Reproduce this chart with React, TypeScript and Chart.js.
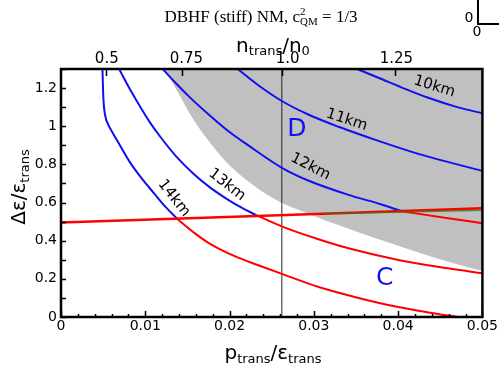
import React, { useEffect, useRef } from "react";
import { Chart, registerables } from "chart.js";
Chart.register(...registerables);

// ---- tick values / labels ----
const xTicks = [0, 0.01, 0.02, 0.03, 0.04, 0.05];
const xTickLabels = ["0", "0.01", "0.02", "0.03", "0.04", "0.05"];
const yTicks = [0, 0.2, 0.4, 0.6, 0.8, 1, 1.2];
const yTickLabels = ["0", "0.2", "0.4", "0.6", "0.8", "1", "1.2"];
const topLabelPos = [0.00543, 0.01488, 0.0269, 0.0398];
const topTickLabels = ["0.5", "0.75", "1.0", "1.25"];
const topTickMarks = [0.0053, 0.0143, 0.0262, 0.0396];

// ---- series (x = p_trans/eps_trans, y = delta eps / eps_trans) ----
const r14BlueX = [0.00492, 0.00502, 0.00525, 0.00555, 0.00614, 0.00697, 0.00815, 0.00953, 0.0111, 0.0124, 0.01381];
const r14BlueY = [1.301, 1.154, 1.055, 1.014, 0.965, 0.902, 0.813, 0.729, 0.645, 0.577, 0.514];
const r14RedX = [0.01381, 0.01582, 0.01759, 0.02054, 0.02349, 0.02621, 0.03058, 0.0353, 0.04002, 0.04357, 0.04711];
const r14RedY = [0.514, 0.441, 0.386, 0.32, 0.27, 0.226, 0.157, 0.1, 0.052, 0.024, 0.0];

const r13BlueX = [0.00688, 0.00815, 0.00933, 0.01051, 0.01169, 0.01366, 0.01562, 0.01759, 0.01956, 0.02137, 0.02311];
const r13BlueY = [1.301, 1.196, 1.107, 1.023, 0.95, 0.842, 0.755, 0.682, 0.622, 0.574, 0.535];
const r13RedX = [0.02311, 0.02625, 0.03019, 0.03412, 0.04002, 0.04593, 0.05];
const r13RedY = [0.535, 0.474, 0.413, 0.36, 0.299, 0.255, 0.229];

const r12BlueX = [0.01204, 0.01346, 0.01523, 0.01759, 0.01995, 0.02231, 0.02621, 0.0294, 0.03412, 0.03802, 0.04041];
const r12BlueY = [1.301, 1.233, 1.154, 1.059, 0.971, 0.897, 0.782, 0.714, 0.64, 0.59, 0.554];
const r12RedX = [0.04041, 0.04593, 0.05];
const r12RedY = [0.554, 0.518, 0.492];

const r11X = [0.02093, 0.02349, 0.02625, 0.0294, 0.03294, 0.03766, 0.04239, 0.05];
const r11Y = [1.301, 1.212, 1.131, 1.06, 0.997, 0.923, 0.855, 0.766];

const r10X = [0.03506, 0.03766, 0.04038, 0.04357, 0.04711, 0.05];
const r10Y = [1.301, 1.254, 1.204, 1.149, 1.099, 1.068];

const critX = [0, 0.05];
const critY = [0.495, 0.57];
const greenX = [0.0313, 0.05];
const greenY = [0.542, 0.56];

const greyX = [0.01228, 0.0137, 0.01558, 0.01759, 0.0196, 0.02196, 0.02432, 0.02621, 0.02881, 0.03412, 0.04002, 0.04593, 0.05];
const greyY = [1.301, 1.191, 1.044, 0.918, 0.813, 0.719, 0.645, 0.598, 0.551, 0.462, 0.373, 0.289, 0.241];

const nTransX = [0.0262, 0.0262];
const nTransY = [0, 1.3];

// ---- annotation anchors (data coords) ----
const kmLabels = ["10km", "11km", "12km", "13km", "14km"];
const kmLabelX = [0.0443, 0.0339, 0.0296, 0.0197, 0.0134];
const kmLabelY = [1.208, 1.033, 0.788, 0.693, 0.623];
const kmLabelRot = [17, 18, 27, 38, 52];
const regionLabels = ["D", "C"];
const regionX = [0.028, 0.0384];
const regionY = [0.981, 0.203];

const BLUE = "#1010f0";
const RED = "#ff0000";
const SANS = "'DejaVu Sans', Verdana, sans-serif";
const SERIF = "'Liberation Serif', 'Times New Roman', serif";

const pts = (xs: number[], ys: number[]) => xs.map((x, i) => ({ x, y: ys[i] }));

const curve = (xs: number[], ys: number[], color: string, width: number, order: number) => ({
  data: pts(xs, ys),
  showLine: true,
  borderColor: color,
  borderWidth: width,
  pointRadius: 0,
  cubicInterpolationMode: "monotone" as const,
  fill: false,
  order,
});

type Part = { t: string; size: number; dy: number };
function richWidth(ctx: CanvasRenderingContext2D, parts: Part[], family: string) {
  let w = 0;
  for (const p of parts) {
    ctx.font = `${p.size}px ${family}`;
    w += ctx.measureText(p.t).width;
  }
  return w;
}
function drawRich(ctx: CanvasRenderingContext2D, parts: Part[], cx: number, baseline: number, family: string) {
  const w = richWidth(ctx, parts, family);
  let x = cx - w / 2;
  ctx.textAlign = "left";
  ctx.textBaseline = "alphabetic";
  for (const p of parts) {
    ctx.font = `${p.size}px ${family}`;
    ctx.fillText(p.t, x, baseline + p.dy);
    x += ctx.measureText(p.t).width;
  }
}

const overlay = {
  id: "overlay",
  afterDatasetsDraw(chart: any) {
    const { ctx, scales } = chart;
    const xs = scales.x, ys = scales.y;
    ctx.save();
    ctx.fillStyle = "#000";
    ctx.textAlign = "center";
    ctx.textBaseline = "middle";
    ctx.font = `15px ${SANS}`;
    kmLabels.forEach((t, i) => {
      ctx.save();
      ctx.translate(xs.getPixelForValue(kmLabelX[i]), ys.getPixelForValue(kmLabelY[i]));
      ctx.rotate((kmLabelRot[i] * Math.PI) / 180);
      ctx.fillText(t, 0, 0);
      ctx.restore();
    });
    ctx.fillStyle = BLUE;
    ctx.font = `25px ${SANS}`;
    regionLabels.forEach((t, i) => {
      ctx.fillText(t, xs.getPixelForValue(regionX[i]), ys.getPixelForValue(regionY[i]));
    });
    ctx.restore();
  },
  afterDraw(chart: any) {
    const { ctx, chartArea: ca, scales } = chart;
    const xs = scales.x, ys = scales.y, x2 = scales.x2;
    ctx.save();
    ctx.strokeStyle = "#000";
    ctx.lineWidth = 1.5;
    ctx.beginPath();
    for (let v = 0; v <= 1.3001; v += 0.1) {
      const py = Math.round(ys.getPixelForValue(v)) + 0.5;
      ctx.moveTo(ca.left, py);
      ctx.lineTo(ca.left + 5, py);
    }
    for (let v = 0; v <= 0.05001; v += 0.002) {
      const major = Math.abs(v / 0.01 - Math.round(v / 0.01)) < 1e-6;
      const px = Math.round(xs.getPixelForValue(v)) + 0.5;
      ctx.moveTo(px, ca.bottom);
      ctx.lineTo(px, ca.bottom - (major ? 6 : 3));
    }
    topTickMarks.forEach((v) => {
      const px = Math.round(x2.getPixelForValue(v)) + 0.5;
      ctx.moveTo(px, ca.top);
      ctx.lineTo(px, ca.top + 7);
    });
    ctx.stroke();
    ctx.lineWidth = 2.5;
    ctx.strokeRect(ca.left, ca.top, ca.right - ca.left, ca.bottom - ca.top);

    ctx.fillStyle = "#000";
    // title
    ctx.textBaseline = "alphabetic";
    ctx.textAlign = "left";
    const f1 = `17px ${SERIF}`, f2 = `11px ${SERIF}`;
    ctx.font = f1;
    const a = "DBHF (stiff) NM, c";
    const b = " = 1/3";
    const wa = ctx.measureText(a).width, wb = ctx.measureText(b).width;
    ctx.font = f2;
    const ws = Math.max(ctx.measureText("2").width, ctx.measureText("QM").width);
    const total = wa + ws + wb;
    const tx = 261 - total / 2;
    const base = 22;
    ctx.font = f1;
    ctx.fillText(a, tx, base);
    ctx.font = f2;
    ctx.fillText("2", tx + wa, base - 7);
    ctx.fillText("QM", tx + wa, base + 3);
    ctx.font = f1;
    ctx.fillText(b, tx + wa + ws, base);

    drawRich(ctx, [
      { t: "n", size: 20, dy: 0 },
      { t: "trans", size: 13, dy: 3 },
      { t: "/n", size: 20, dy: 0 },
      { t: "0", size: 13, dy: 3 },
    ], 273, 52, SANS);
    drawRich(ctx, [
      { t: "p", size: 20, dy: 0 },
      { t: "trans", size: 13, dy: 4 },
      { t: "/ε", size: 20, dy: 0 },
      { t: "trans", size: 13, dy: 4 },
    ], 273, 359, SANS);
    ctx.save();
    ctx.translate(25, (ca.top + ca.bottom) / 2 - 6);
    ctx.rotate(-Math.PI / 2);
    drawRich(ctx, [
      { t: "Δε/ε", size: 20, dy: 0 },
      { t: "trans", size: 13, dy: 4 },
    ], 0, 0, SANS);
    ctx.restore();

    // fragment of the neighbouring panel (top-right corner)
    ctx.font = `14px ${SANS}`;
    ctx.textAlign = "center";
    ctx.textBaseline = "middle";
    ctx.fillText("0", 469, 18);
    ctx.fillText("0", 477, 32);
    ctx.lineWidth = 2;
    ctx.beginPath();
    ctx.moveTo(478, 0);
    ctx.lineTo(478, 24);
    ctx.lineTo(499, 24);
    ctx.stroke();
    ctx.restore();
  },
};

export default function App() {
  const ref = useRef<HTMLCanvasElement | null>(null);
  useEffect(() => {
    if (!ref.current) return;
    const tickFont = { family: SANS, size: 14 };
    const chart = new Chart(ref.current, {
      type: "scatter",
      data: {
        datasets: [
          {
            data: pts(greyX, greyY),
            showLine: true,
            borderColor: "rgba(0,0,0,0)",
            borderWidth: 0,
            backgroundColor: "#c0c0c0",
            pointRadius: 0,
            cubicInterpolationMode: "monotone",
            fill: "end",
            order: 10,
          } as any,
          curve(nTransX, nTransY, "#222", 1, 9),
          curve(r10X, r10Y, BLUE, 2, 3),
          curve(r11X, r11Y, BLUE, 2, 3),
          curve(r12BlueX, r12BlueY, BLUE, 2, 3),
          curve(r12RedX, r12RedY, RED, 2, 3),
          curve(r13BlueX, r13BlueY, BLUE, 2, 3),
          curve(r13RedX, r13RedY, RED, 2, 3),
          curve(r14BlueX, r14BlueY, BLUE, 2, 3),
          curve(r14RedX, r14RedY, RED, 2, 3),
          curve(critX, critY, RED, 2.5, 1),
          curve(greenX, greenY, "rgba(50,120,20,0.75)", 1.5, 0),
        ],
      },
      options: {
        animation: false,
        responsive: false,
        devicePixelRatio: 1,
        layout: { padding: { left: 0, right: 15, top: 0, bottom: 0 } },
        plugins: { legend: { display: false }, tooltip: { enabled: false }, title: { display: false } },
        scales: {
          x: {
            type: "linear",
            position: "bottom",
            min: 0,
            max: 0.05,
            grid: { display: false, drawTicks: false },
            border: { display: false },
            ticks: {
              font: tickFont,
              color: "#000",
              padding: 1,
              autoSkip: false,
              maxRotation: 0,
              callback: (_v: any, i: number) => xTickLabels[i],
            },
            afterBuildTicks: (s: any) => {
              s.ticks = xTicks.map((value) => ({ value }));
            },
            afterFit: (s: any) => {
              s.height = 51;
            },
          },
          x2: {
            type: "linear",
            position: "top",
            min: 0,
            max: 0.05,
            grid: { display: false, drawTicks: false },
            border: { display: false },
            ticks: {
              font: { family: SANS, size: 15 },
              color: "#000",
              padding: 1,
              autoSkip: false,
              maxRotation: 0,
              callback: (_v: any, i: number) => topTickLabels[i],
            },
            afterBuildTicks: (s: any) => {
              s.ticks = topLabelPos.map((value) => ({ value }));
            },
            afterFit: (s: any) => {
              s.height = 69;
            },
          },
          y: {
            type: "linear",
            min: 0,
            max: 1.3,
            grid: { display: false, drawTicks: false },
            border: { display: false },
            ticks: {
              font: tickFont,
              color: "#000",
              padding: 4,
              autoSkip: false,
              callback: (_v: any, i: number) => yTickLabels[i],
            },
            afterBuildTicks: (s: any) => {
              s.ticks = yTicks.map((value) => ({ value }));
            },
            afterFit: (s: any) => {
              s.width = 61;
            },
          },
        },
      },
      plugins: [overlay],
    } as any);
    return () => chart.destroy();
  }, []);
  return (
    <div style={{ position: "fixed", left: 0, top: 0, width: 499, height: 368, background: "#fff" }}>
      <canvas ref={ref} width={499} height={368} style={{ display: "block" }} />
    </div>
  );
}
